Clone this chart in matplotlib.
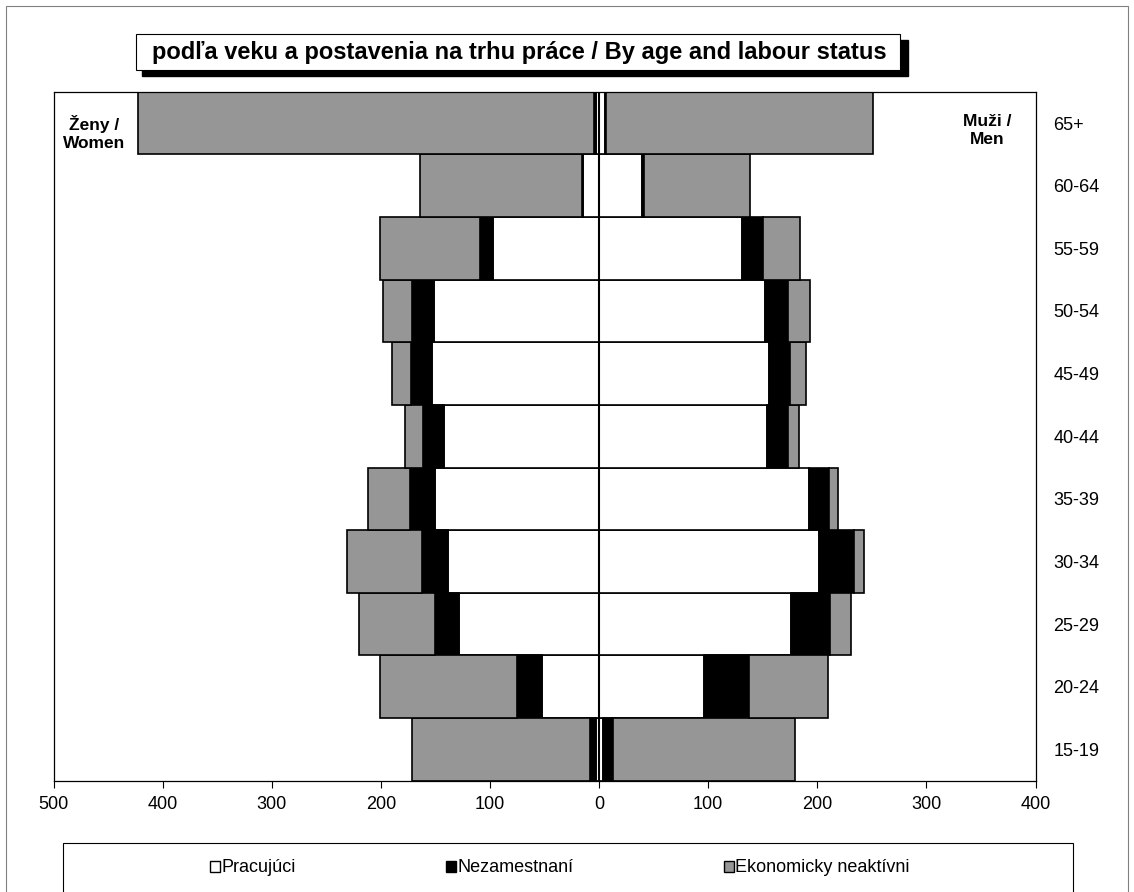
import matplotlib
matplotlib.use('Agg')
import matplotlib.pyplot as plt
from matplotlib.patches import Rectangle, Patch
import numpy as np

plt.rcParams['font.family'] = ['Liberation Sans', 'DejaVu Sans']

# age groups, bottom to top
ages = ['15-19', '20-24', '25-29', '30-34', '35-39', '40-44',
        '45-49', '50-54', '55-59', '60-64', '65+']

# women (drawn to the left)
employed_w = [3, 52, 128, 138, 150, 142, 153, 151, 97, 15, 3]
unemployed_w = [5.5, 23, 22, 24, 23.5, 19, 19, 20, 12, 1, 1.5]
inactive_w = [163, 126, 70, 69, 38, 17, 18, 27, 92, 148, 418]

# men (drawn to the right)
employed_m = [4, 96, 176, 202, 192, 154, 156, 152, 131, 39, 5]
unemployed_m = [9, 41, 36, 32, 19, 19.5, 19, 21, 19.5, 2, 1.5]
inactive_m = [166.5, 73, 19, 9, 8, 9.5, 15, 20, 34, 97, 245]

x_ticks = [-500, -400, -300, -200, -100, 0, 100, 200, 300, 400]

labels = ['Pracujúci', 'Nezamestnaní', 'Ekonomicky neaktívni']
colors = ['white', 'black', '#969696']

W, H = 1134, 892
fig = plt.figure(figsize=(W / 100, H / 100), dpi=100)

# outer frame of the whole picture
fig.add_artist(Rectangle((6 / W, -0.02), 1 - 12 / W, 1.02 - 6 / H,
                         transform=fig.transFigure, fill=False,
                         edgecolor='#808080', linewidth=0.8))

ax = fig.add_axes([53.5 / W, 1 - 780.7 / H, 982 / W, 689 / H])

y = np.arange(len(ages))
edge = dict(edgecolor='black', linewidth=1.2, height=1.0)

# stacked bars, women negative
ew = -np.array(employed_w)
uw = -np.array(unemployed_w)
iw = -np.array(inactive_w)
ax.barh(y, ew, color=colors[0], **edge)
ax.barh(y, uw, left=ew, color=colors[1], **edge)
ax.barh(y, iw, left=ew + uw, color=colors[2], **edge)

em = np.array(employed_m)
um = np.array(unemployed_m)
im = np.array(inactive_m)
ax.barh(y, em, color=colors[0], **edge)
ax.barh(y, um, left=em, color=colors[1], **edge)
ax.barh(y, im, left=em + um, color=colors[2], **edge)

ax.axvline(0, color='black', linewidth=1.5)

ax.set_xlim(-500, 400)
ax.set_ylim(-0.5, len(ages) - 0.5)
ax.set_xticks(x_ticks)
ax.set_xticklabels([str(abs(t)) for t in x_ticks], fontsize=13)
ax.tick_params(axis='x', direction='out', length=5, width=0.8, pad=6)

ax.set_yticks(y)
ax.set_yticklabels(ages, fontsize=13)
ax.yaxis.tick_right()
ax.tick_params(axis='y', length=0, pad=13)
for s in ax.spines.values():
    s.set_linewidth(0.9)
    s.set_color('black')

ax.text(0.041, 0.94, 'Ženy /\nWomen', transform=ax.transAxes, fontsize=12.5,
        fontweight='bold', ha='center', va='center', linespacing=1.25)
ax.text(0.951, 0.943, 'Muži /\nMen', transform=ax.transAxes, fontsize=12.5,
        fontweight='bold', ha='center', va='center', linespacing=1.25)

# title box with shadow
fig.add_artist(Rectangle((142 / W, 1 - 76 / H), 766 / W, 36 / H,
                         transform=fig.transFigure, facecolor='black',
                         edgecolor='black'))
fig.add_artist(Rectangle((136 / W, 1 - 70 / H), 764 / W, 36 / H,
                         transform=fig.transFigure, facecolor='white',
                         edgecolor='black', linewidth=0.8))
fig.text(519 / W, 1 - 53 / H,
         'podľa veku a postavenia na trhu práce / By age and labour status',
         fontsize=17, fontweight='bold', ha='center', va='center')

# legend box
fig.add_artist(Rectangle((63 / W, -0.02), 1010 / W, 0.02 + 1 - 843 / H,
                         transform=fig.transFigure, fill=False,
                         edgecolor='black', linewidth=0.8))
handles = [Patch(facecolor=c, edgecolor='black', linewidth=1.0) for c in colors]
fig.legend(handles, labels, loc='center', bbox_to_anchor=(560 / W, 1 - 868 / H),
           ncol=3, frameon=False, fontsize=13, handlelength=0.55,
           handleheight=0.55, handletextpad=0.1, columnspacing=8.3)

fig.savefig('out.png', dpi=100)
